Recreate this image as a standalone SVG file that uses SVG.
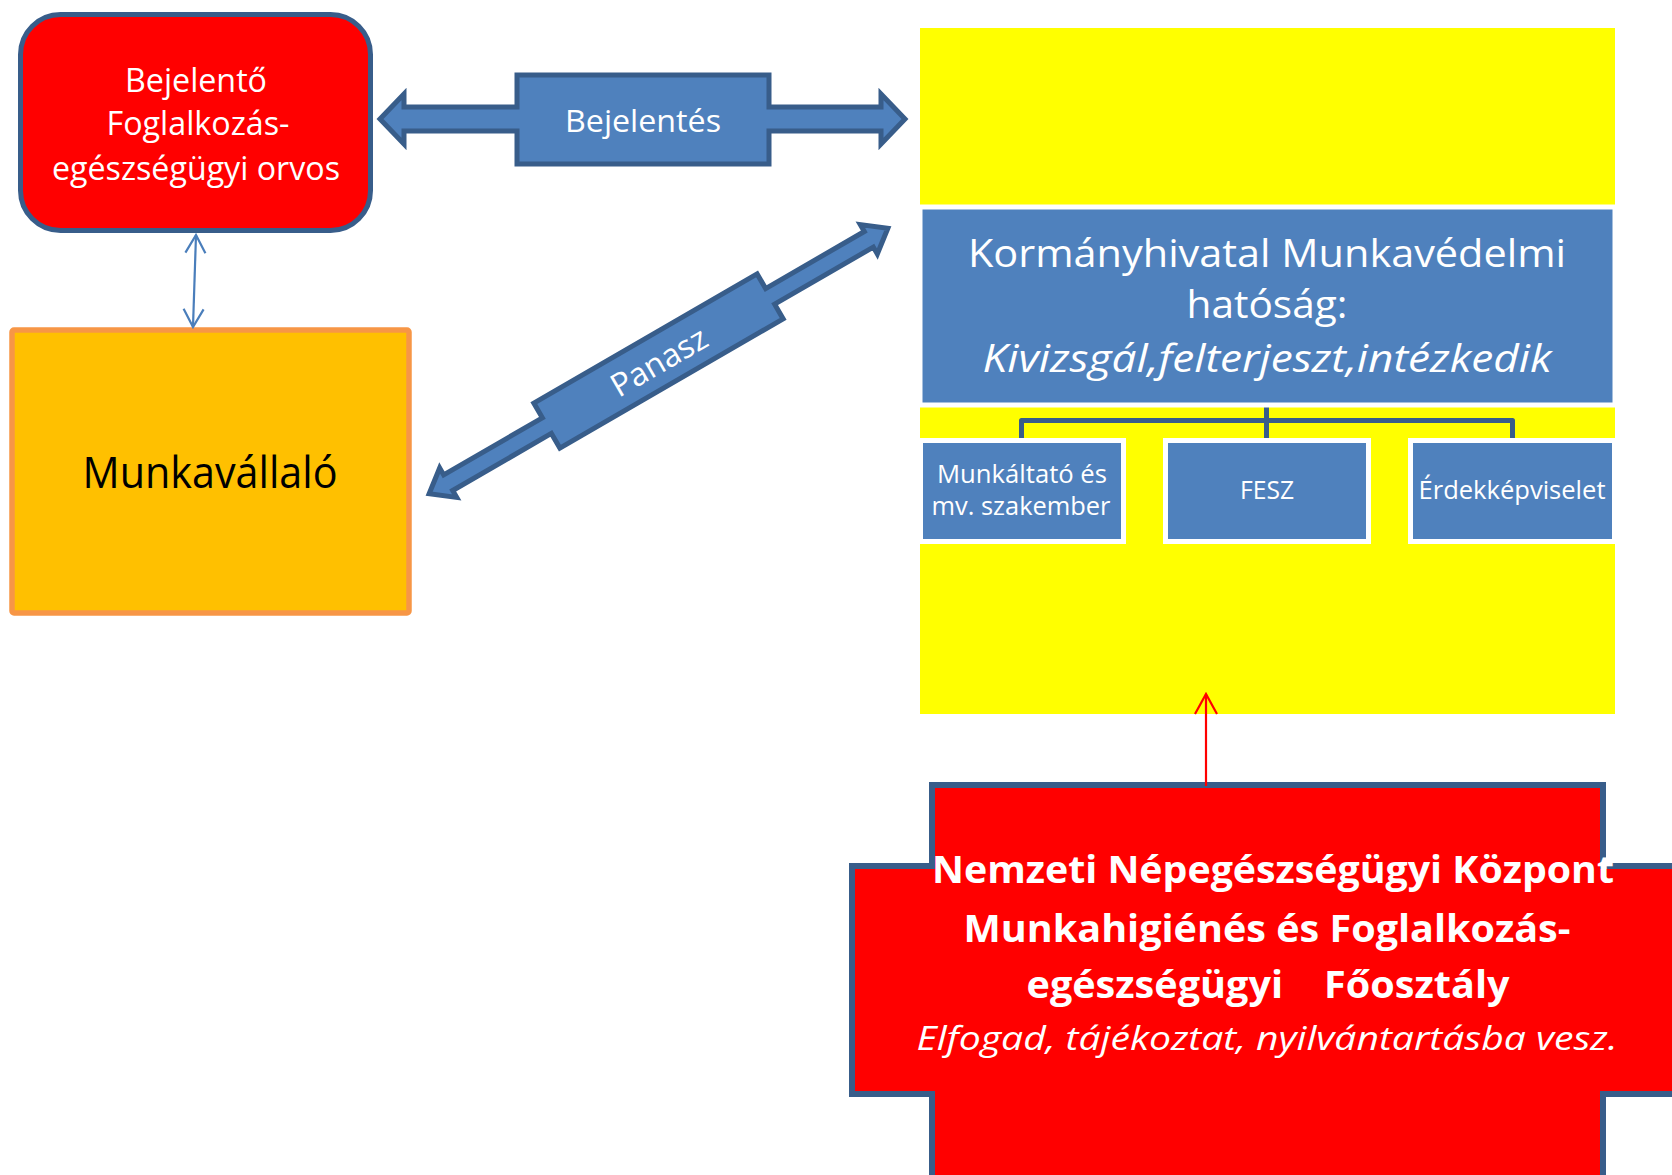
<svg xmlns="http://www.w3.org/2000/svg" width="1672" height="1175" viewBox="0 0 1672 1175">
<style>
text { font-family: "Open Sans", "Noto Sans", "DejaVu Sans", sans-serif; text-anchor: middle; }
.w { fill: #FFFFFF; }
.blk { fill: #000000; }
.blueStroke { fill: #4F81BD; stroke: #385D8A; stroke-width: 5; stroke-linejoin: miter; }
.sub { fill: #4F81BD; stroke: #FFFFFF; stroke-width: 5; }
.it { font-style: italic; }
.b { font-weight: bold; }
</style>
<defs>
<marker id="openBlue" viewBox="0 0 22 24" refX="20" refY="12" markerWidth="22" markerHeight="24" markerUnits="userSpaceOnUse" orient="auto-start-reverse">
<path d="M2,2 L20,12 L2,22" fill="none" stroke="#4A7EBB" stroke-width="2.2"/>
</marker>
<marker id="openRed" viewBox="0 0 24 26" refX="22" refY="13" markerWidth="24" markerHeight="26" markerUnits="userSpaceOnUse" orient="auto">
<path d="M2,2 L22,13 L2,24" fill="none" stroke="#FF0000" stroke-width="2.2"/>
</marker>
</defs>

<g id="node-orvos">
<rect x="20.5" y="14.5" width="350" height="216" rx="40" ry="40" fill="#FF0000" stroke="#385D8A" stroke-width="5"/>
<text class="w" x="196" y="92" font-size="32" textLength="142" lengthAdjust="spacingAndGlyphs">Bejelentő</text>
<text class="w" x="198" y="135" font-size="32" textLength="183" lengthAdjust="spacingAndGlyphs">Foglalkozás-</text>
<text class="w" x="196" y="180" font-size="32" textLength="288" lengthAdjust="spacingAndGlyphs">egészségügyi orvos</text>
</g>

<g id="node-munkavallalo">
<rect x="12" y="330" width="397" height="283" rx="2" ry="2" fill="#FFC000" stroke="#F79646" stroke-width="5.5"/>
<text class="blk" x="210" y="488" font-size="44" textLength="255" lengthAdjust="spacingAndGlyphs">Munkavállaló</text>
</g>

<g id="node-kormanyhivatal">
<rect x="920" y="28" width="695" height="686" fill="#FFFF00"/>
<g id="org-connectors">
<path d="M1266.5,404 V439 M1021.5,439 V420.5 H1512.5 V439" fill="none" stroke="#385D8A" stroke-width="5" stroke-linejoin="round"/>
</g>
<rect x="920" y="207" width="695" height="198" class="sub"/>
<text class="w" x="1267" y="267" font-size="39" textLength="598" lengthAdjust="spacingAndGlyphs">Kormányhivatal Munkavédelmi</text>
<text class="w" x="1267" y="318" font-size="39" textLength="161" lengthAdjust="spacingAndGlyphs">hatóság:</text>
<text class="w it" x="1267" y="372" font-size="39" textLength="569" lengthAdjust="spacingAndGlyphs">Kivizsgál,felterjeszt,intézkedik</text>
</g>

<g id="node-munkaltato">
<rect x="920.5" y="440.5" width="203" height="101" class="sub"/>
<text class="w" x="1022" y="483" font-size="25" textLength="170" lengthAdjust="spacingAndGlyphs">Munkáltató és</text>
<text class="w" x="1021" y="515" font-size="25" textLength="179" lengthAdjust="spacingAndGlyphs">mv. szakember</text>
</g>

<g id="node-fesz">
<rect x="1165.5" y="440.5" width="203" height="101" class="sub"/>
<text class="w" x="1267" y="499" font-size="25" textLength="54" lengthAdjust="spacingAndGlyphs">FESZ</text>
</g>

<g id="node-erdekkepviselet">
<rect x="1410.5" y="440.5" width="204" height="101" class="sub"/>
<text class="w" x="1512" y="499" font-size="25" textLength="187" lengthAdjust="spacingAndGlyphs">Érdekképviselet</text>
</g>

<g id="node-nngyk">
<path d="M932,1200 L932,1094 L852,1094 L852,866 L932,866 L932,785 L1603,785 L1603,866 L1700,866 L1700,1094 L1603,1094 L1603,1200 Z" fill="#FF0000" stroke="#385D8A" stroke-width="6"/>
<text class="w b" x="1273" y="883" font-size="37" textLength="682" lengthAdjust="spacingAndGlyphs">Nemzeti Népegészségügyi Központ</text>
<text class="w b" x="1267" y="942" font-size="37" textLength="607" lengthAdjust="spacingAndGlyphs">Munkahigiénés és Foglalkozás-</text>
<text class="w b" x="1268" y="998" font-size="37" textLength="483" lengthAdjust="spacingAndGlyphs" xml:space="preserve">egészségügyi    Főosztály</text>
<text class="w it" x="1267" y="1050" font-size="33" textLength="701" lengthAdjust="spacingAndGlyphs">Elfogad, tájékoztat, nyilvántartásba vesz.</text>
</g>

<g id="connectors">
<g id="conn-bejelentes">
<path class="blueStroke" d="M380,119 L404,94 L404,107 L517,107 L517,75 L769,75 L769,107 L881,107 L881,94 L905,119 L881,144 L881,131 L769,131 L769,164 L517,164 L517,131 L404,131 L404,144 Z"/>
<text class="w" x="643" y="132" font-size="31" textLength="156" lengthAdjust="spacingAndGlyphs">Bejelentés</text>
</g>
<g id="conn-panasz" transform="translate(658.5,361) rotate(-30.06)">
<path class="blueStroke" d="M-265,0 L-243,-17 L-243,-9 L-129,-9 L-129,-26 L129,-26 L129,-9 L243,-9 L243,-17 L265,0 L243,17 L243,9 L129,9 L129,26 L-129,26 L-129,9 L-243,9 L-243,17 Z"/>
<text class="w" x="0" y="12" font-size="32" textLength="106" lengthAdjust="spacingAndGlyphs">Panasz</text>
</g>
<line id="conn-orvos-munkavallalo" x1="196" y1="235" x2="193" y2="327" stroke="#4A7EBB" stroke-width="2.2" marker-start="url(#openBlue)" marker-end="url(#openBlue)"/>
<line id="conn-nngyk-kormany" x1="1206" y1="786" x2="1206" y2="694" stroke="#FF0000" stroke-width="2.2" marker-end="url(#openRed)"/>
</g>
</svg>
